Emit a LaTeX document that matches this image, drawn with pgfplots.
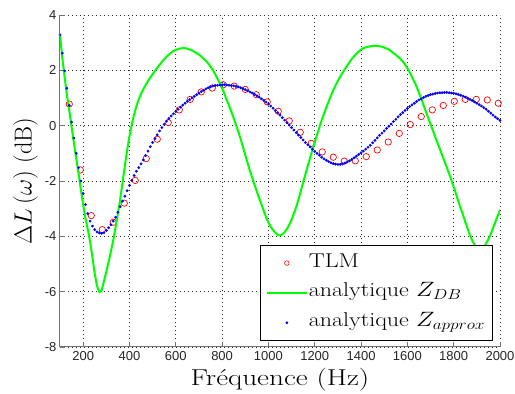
\documentclass[border=0pt]{standalone}
\usepackage{fontspec}
\usepackage{pgfplots}
\pgfplotsset{compat=1.18}
\newfontfamily\arialfont{Liberation Sans}
\definecolor{mgreen}{RGB}{0,255,0}
\begin{document}
\begin{tikzpicture}
\path[use as bounding box] (-60pt,-47pt) rectangle (455pt,347pt);
\begin{axis}[
 at={(0pt,0pt)}, anchor=south west,
 scale only axis, width=440pt, height=332pt,
 xmin=100, xmax=2000, ymin=-8, ymax=4,
 xtick={200,400,...,2000}, ytick={-8,-6,...,4},
 xticklabels={200,400,600,800,1000,1200,1400,1600,1800,2000},
 yticklabels={-8,-6,-4,-2,0,2,4},
 axis line style={draw=none},
 xtick pos=bottom, ytick pos=left,
 clip mode=individual,
 tick align=inside, major tick length=5pt,
 tick style={black!55, line width=0.8pt},
 grid=major,
 major grid style={black!85, line width=0.6pt, dash pattern=on 0.8pt off 3.2pt},
 ticklabel style={font=\arialfont\fontsize{13}{13}\selectfont, text=black!85},
 xticklabel style={anchor=base, yshift=-13pt},
 xlabel={\scalebox{1.27}[1]{Fréquence (Hz)}},
 ylabel={$\Delta L\,(\omega)$ (dB)},
 xlabel style={font=\fontsize{23}{23}\selectfont, at={(axis description cs:0.5,-0.1145)}, anchor=base},
 ylabel style={font=\fontsize{24.5}{24.5}\selectfont, at={(axis description cs:-0.0643,0.5)}, anchor=base},
 legend cell align=left,
 legend style={at={(rel axis cs:0.983,0.018)}, anchor=south east,
   draw=black, line width=0.7pt, fill=white,
   font=\fontsize{20}{20}\selectfont,
   inner xsep=6pt, inner ysep=8pt, row sep=9.8pt,
   nodes={inner sep=1pt, text height=13pt, text depth=5pt},
   /tikz/every even column/.append style={column sep=1.4pt}},
]
\addplot[only marks, mark=o, red, mark size=3.2pt, mark options={line width=0.7pt},
 legend image code/.code={\draw[only marks, mark=o, red, mark size=2.3pt, mark options={line width=0.6pt}] plot coordinates {(20pt,0pt)};}]
table {
140 0.78
187.5 -1.6
235 -3.25
282.5 -3.76
330 -3.49
377.5 -2.8
425 -1.98
472.5 -1.19
520 -0.49
567.5 0.11
615 0.57
662.5 0.95
710 1.22
757.5 1.36
805 1.48
852.5 1.43
900 1.31
947.5 1.12
995 0.86
1042.5 0.52
1090 0.17
1137.5 -0.24
1185 -0.64
1232.5 -0.95
1280 -1.14
1327.5 -1.28
1375 -1.27
1422.5 -1.12
1470 -0.88
1517.5 -0.59
1565 -0.28
1612.5 0.04
1660 0.33
1707.5 0.57
1755 0.73
1802.5 0.88
1850 0.95
1897.5 0.95
1945 0.93
1992.5 0.81
};
\addlegendentry{\scalebox{1.2}[1]{TLM}}
\addplot[no marks, mgreen, line width=2pt, line join=round,
 legend image code/.code={\draw[mgreen, line width=2pt] (0pt,0pt) -- (40pt,0pt);}]
table {
100 3.28
110 2.45
120 1.75
130 1.10
140 0.55
150 -0.05
160 -0.62
170 -1.18
180 -1.72
190 -2.30
200 -2.85
210 -3.35
220 -3.75
230 -4.20
240 -4.75
250 -5.35
260 -5.80
270 -6.02
280 -5.95
290 -5.62
300 -5.28
310 -4.92
320 -4.54
330 -4.14
340 -3.67
350 -3.18
360 -2.66
370 -2.06
380 -1.45
390 -0.88
400 -0.38
410 0.05
420 0.40
430 0.70
440 0.95
450 1.15
460 1.32
470 1.47
480 1.61
490 1.74
500 1.86
510 1.98
520 2.09
530 2.20
540 2.30
550 2.40
560 2.49
570 2.57
580 2.64
590 2.70
600 2.74
610 2.77
620 2.79
630 2.80
640 2.80
650 2.78
660 2.75
670 2.72
680 2.67
690 2.62
700 2.57
710 2.50
720 2.42
730 2.34
740 2.25
750 2.14
760 2.01
770 1.86
780 1.70
790 1.53
800 1.35
810 1.15
820 0.93
830 0.72
840 0.50
850 0.28
860 0.03
870 -0.22
880 -0.48
890 -0.77
900 -1.06
910 -1.35
920 -1.62
930 -1.88
940 -2.14
950 -2.38
960 -2.62
970 -2.85
980 -3.08
990 -3.31
1000 -3.50
1010 -3.65
1020 -3.77
1030 -3.87
1040 -3.95
1050 -3.97
1060 -3.93
1070 -3.85
1080 -3.73
1090 -3.58
1100 -3.40
1110 -3.18
1120 -2.94
1130 -2.66
1140 -2.36
1150 -2.05
1160 -1.75
1170 -1.45
1180 -1.16
1190 -0.88
1200 -0.60
1210 -0.33
1220 -0.06
1230 0.20
1240 0.43
1250 0.66
1260 0.87
1270 1.08
1280 1.28
1290 1.46
1300 1.62
1310 1.77
1320 1.91
1330 2.04
1340 2.17
1350 2.29
1360 2.41
1370 2.51
1380 2.60
1390 2.68
1400 2.75
1410 2.80
1420 2.83
1430 2.85
1440 2.87
1450 2.88
1460 2.88
1470 2.88
1480 2.87
1490 2.85
1500 2.82
1510 2.79
1520 2.75
1530 2.69
1540 2.62
1550 2.56
1560 2.49
1570 2.41
1580 2.32
1590 2.21
1600 2.08
1610 1.93
1620 1.76
1630 1.59
1640 1.41
1650 1.19
1660 0.97
1670 0.74
1680 0.51
1690 0.28
1700 0.05
1710 -0.17
1720 -0.40
1730 -0.62
1740 -0.84
1750 -1.06
1760 -1.28
1770 -1.50
1780 -1.73
1790 -1.97
1800 -2.21
1810 -2.47
1820 -2.73
1830 -2.98
1840 -3.22
1850 -3.48
1860 -3.72
1870 -3.95
1880 -4.15
1890 -4.30
1900 -4.40
1910 -4.45
1920 -4.45
1930 -4.38
1940 -4.26
1950 -4.10
1960 -3.92
1970 -3.70
1980 -3.48
1990 -3.26
2000 -3.05
};
\addlegendentry{\scalebox{1.2}[1]{analytique $Z_{DB}$}}
\addplot[only marks, mark=*, blue, mark size=1.2pt,
 legend image code/.code={\draw[only marks, mark=*, blue, mark size=1pt] plot coordinates {(20pt,0pt)};}]
table {
100 3.28
110 2.62
120 1.98
130 1.35
140 0.73
150 0.13
160 -0.45
170 -1.00
180 -1.52
190 -2.00
200 -2.45
210 -2.85
220 -3.18
230 -3.45
240 -3.63
250 -3.76
260 -3.84
270 -3.88
280 -3.89
290 -3.87
300 -3.79
310 -3.69
320 -3.58
330 -3.45
340 -3.31
350 -3.13
360 -2.93
370 -2.73
380 -2.55
390 -2.35
400 -2.16
410 -1.98
420 -1.80
430 -1.65
440 -1.52
450 -1.38
460 -1.24
470 -1.08
480 -0.92
490 -0.76
500 -0.61
510 -0.47
520 -0.33
530 -0.19
540 -0.07
550 0.05
560 0.16
570 0.26
580 0.35
590 0.43
600 0.51
610 0.59
620 0.67
630 0.74
640 0.81
650 0.88
660 0.94
670 1.00
680 1.06
690 1.12
700 1.18
710 1.23
720 1.28
730 1.33
740 1.37
750 1.40
760 1.43
770 1.45
780 1.46
790 1.47
800 1.48
810 1.48
820 1.47
830 1.46
840 1.45
850 1.44
860 1.42
870 1.40
880 1.37
890 1.34
900 1.30
910 1.26
920 1.22
930 1.18
940 1.13
950 1.08
960 1.03
970 0.97
980 0.91
990 0.85
1000 0.78
1010 0.71
1020 0.63
1030 0.55
1040 0.47
1050 0.38
1060 0.29
1070 0.20
1080 0.11
1090 0.02
1100 -0.07
1110 -0.16
1120 -0.25
1130 -0.34
1140 -0.43
1150 -0.52
1160 -0.61
1170 -0.69
1180 -0.77
1190 -0.85
1200 -0.93
1210 -1.00
1220 -1.07
1230 -1.14
1240 -1.20
1250 -1.25
1260 -1.30
1270 -1.34
1280 -1.37
1290 -1.39
1300 -1.40
1310 -1.40
1320 -1.38
1330 -1.35
1340 -1.31
1350 -1.27
1360 -1.22
1370 -1.16
1380 -1.10
1390 -1.04
1400 -0.98
1410 -0.92
1420 -0.85
1430 -0.78
1440 -0.71
1450 -0.62
1460 -0.53
1470 -0.44
1480 -0.35
1490 -0.27
1500 -0.19
1510 -0.10
1520 -0.02
1530 0.06
1540 0.15
1550 0.23
1560 0.32
1570 0.40
1580 0.47
1590 0.55
1600 0.62
1610 0.69
1620 0.75
1630 0.81
1640 0.87
1650 0.93
1660 0.97
1670 1.02
1680 1.06
1690 1.09
1700 1.12
1710 1.14
1720 1.16
1730 1.18
1740 1.19
1750 1.19
1760 1.20
1770 1.20
1780 1.19
1790 1.18
1800 1.17
1810 1.15
1820 1.13
1830 1.10
1840 1.07
1850 1.03
1860 0.99
1870 0.95
1880 0.91
1890 0.86
1900 0.81
1910 0.76
1920 0.71
1930 0.65
1940 0.59
1950 0.52
1960 0.45
1970 0.38
1980 0.31
1990 0.25
2000 0.19
};
\addlegendentry{\scalebox{1.2}[1]{analytique $Z_{approx}$}}
\draw[black!55, line width=1pt] (rel axis cs:0,1) -- (rel axis cs:0,0) -- (rel axis cs:1,0);
\end{axis}
\end{tikzpicture}
\end{document}
